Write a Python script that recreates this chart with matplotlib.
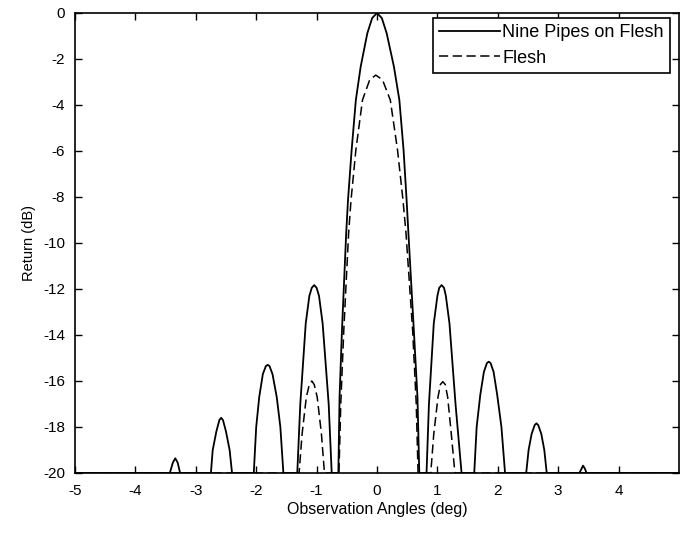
import matplotlib
matplotlib.use("Agg")
import matplotlib.pyplot as plt

plt.rcParams['font.family'] = ['Liberation Sans', 'DejaVu Sans']
plt.rcParams['axes.unicode_minus'] = False

# Nine Pipes on Flesh (solid)
pipes_x = [-5.0,
           -3.43, -3.38, -3.34, -3.30, -3.26,
           -2.75, -2.72, -2.66, -2.61, -2.58, -2.55, -2.50, -2.44, -2.40,
           -2.04, -2.00, -1.95, -1.89, -1.84, -1.81, -1.78, -1.73, -1.66, -1.60, -1.55,
           -1.32, -1.27, -1.18, -1.12, -1.08, -1.04, -1.00, -0.96, -0.90, -0.80, -0.75,
           -0.64, -0.62, -0.58, -0.51, -0.48, -0.42, -0.35, -0.27, -0.16, -0.08, 0.00,
           0.08, 0.16, 0.28, 0.37, 0.44, 0.49, 0.52, 0.61, 0.67, 0.70,
           0.82, 0.86, 0.94, 1.00, 1.03, 1.07, 1.11, 1.14, 1.20, 1.30, 1.40,
           1.61, 1.65, 1.71, 1.77, 1.82, 1.85, 1.88, 1.93, 1.99, 2.06, 2.12,
           2.47, 2.51, 2.56, 2.61, 2.64, 2.67, 2.72, 2.77, 2.81,
           3.35, 3.39, 3.41, 3.44, 3.47,
           5.0]
pipes_y = [-20,
           -20, -19.55, -19.36, -19.55, -20,
           -20, -19.0, -18.2, -17.7, -17.6, -17.7, -18.2, -19.0, -20,
           -20, -18.0, -16.7, -15.7, -15.35, -15.3, -15.35, -15.7, -16.7, -18.0, -20,
           -20, -17.0, -13.5, -12.3, -11.95, -11.83, -11.95, -12.3, -13.5, -17.0, -20,
           -20, -16.7, -13.8, -9.57, -8.13, -5.96, -3.78, -2.33, -0.88, -0.22, 0.0,
           -0.22, -0.88, -2.33, -3.78, -5.96, -8.13, -9.57, -13.8, -16.7, -20,
           -20, -17.0, -13.5, -12.3, -11.95, -11.83, -11.95, -12.3, -13.5, -17.0, -20,
           -20, -18.0, -16.6, -15.6, -15.22, -15.16, -15.22, -15.6, -16.6, -18.0, -20,
           -20, -19.0, -18.3, -17.92, -17.84, -17.92, -18.3, -19.0, -20,
           -20, -19.8, -19.68, -19.8, -20,
           -20]

# Flesh (dashed)
flesh_x = [-5.0,
           -1.29, -1.24, -1.17, -1.12, -1.08, -1.04, -0.99, -0.92, -0.87,
           -0.63, -0.60, -0.55, -0.47, -0.43, -0.35, -0.24, -0.12, -0.02,
           0.09, 0.22, 0.34, 0.43, 0.48, 0.59, 0.65, 0.68,
           0.89, 0.94, 1.01, 1.05, 1.09, 1.13, 1.17, 1.23, 1.29,
           5.0]
flesh_y = [-20,
           -20, -18.3, -16.7, -16.15, -16.0, -16.15, -16.7, -18.3, -20,
           -20, -17.0, -13.8, -9.57, -8.13, -5.96, -3.78, -2.9, -2.7,
           -2.9, -3.78, -5.96, -8.13, -9.57, -13.8, -17.0, -20,
           -20, -18.3, -16.7, -16.15, -16.03, -16.15, -16.7, -18.3, -20,
           -20]

xticks = [-5, -4, -3, -2, -1, 0, 1, 2, 3, 4]
yticks = [0, -2, -4, -6, -8, -10, -12, -14, -16, -18, -20]

fig = plt.figure(figsize=(6.81, 5.37), dpi=100)
ax = fig.add_axes([75 / 681, 1 - 473 / 537, 604 / 681, 460 / 537])

ax.plot(pipes_x, pipes_y, color='black', lw=1.3, label='Nine Pipes on Flesh')
ax.plot(flesh_x, flesh_y, color='black', lw=1.1, dashes=(6, 3), label='Flesh')

ax.set_xlim(-5, 5)
ax.set_ylim(-20, 0)
ax.set_xticks(xticks)
ax.set_yticks(yticks)
ax.set_xticklabels([str(t) for t in xticks])
ax.set_yticklabels([str(t) for t in yticks])
ax.tick_params(direction='in', length=5, width=1, top=True, right=True,
               labelsize=11)
ax.tick_params(axis='x', pad=8)
ax.tick_params(axis='y', pad=7)
for s in ax.spines.values():
    s.set_linewidth(1.2)

ax.set_xlabel('Observation Angles (deg)', fontsize=11.5, labelpad=3)
ax.set_ylabel('Return (dB)', fontsize=10.5, labelpad=5)

leg = ax.legend(loc='upper right', bbox_to_anchor=(0.985, 0.989), borderaxespad=0,
                fontsize=13, handlelength=3.4, handletextpad=0.1,
                labelspacing=0.45, borderpad=0.35, fancybox=False, framealpha=1)
leg.get_frame().set_edgecolor('black')
leg.get_frame().set_linewidth(1.2)

fig.savefig('out.png', dpi=100)
